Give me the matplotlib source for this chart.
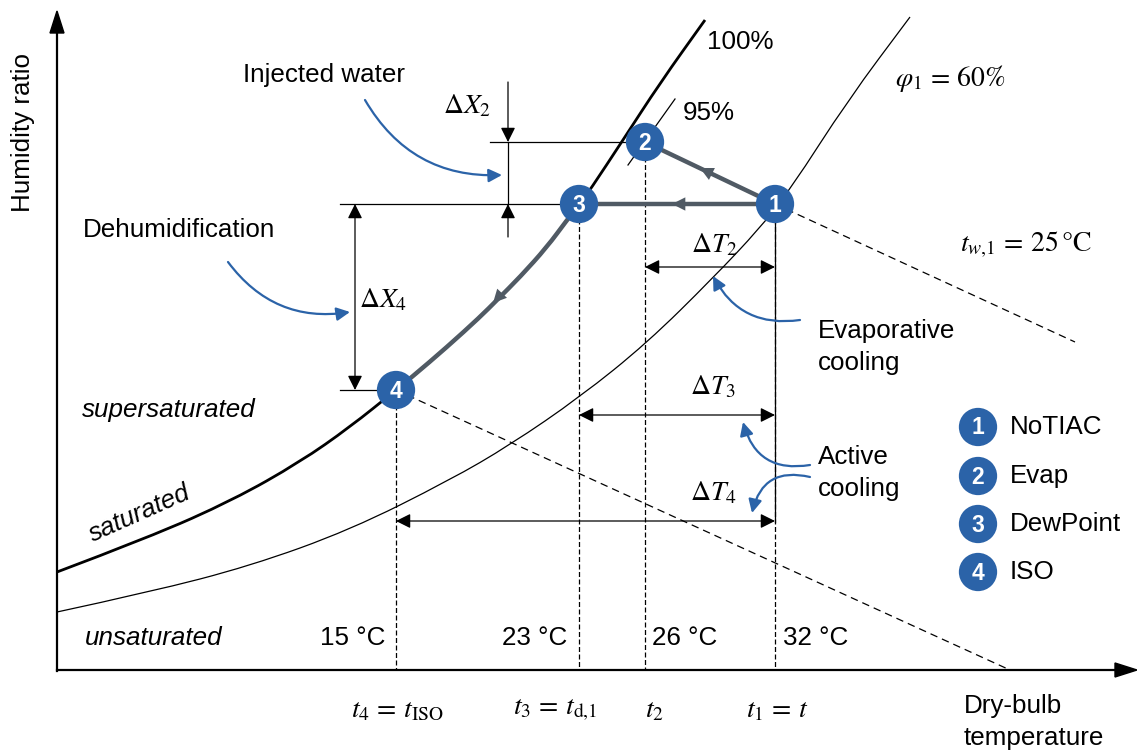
import matplotlib.pyplot as plt
import matplotlib.patches as mpatches
from matplotlib.path import Path

plt.rcParams["font.family"] = ["Liberation Sans", "DejaVu Sans"]
plt.rcParams["mathtext.fontset"] = "stix"

BLUE = "#2B63A8"
GRAY = "#505A64"

# chart coordinates (schematic, 0..1137 wide, 0..754 tall, y down)
sat_x = [57, 150, 233, 300, 350, 396, 412, 447, 480, 497, 520, 547, 567, 579, 590, 623, 660, 705]
sat_y = [572, 537, 500, 462, 427, 390, 377, 347, 317, 300, 277, 247, 220, 205, 190, 140, 83, 20]
rh60_x = [57, 150, 250, 350, 450, 510, 580, 647, 713, 760, 790, 848, 910]
rh60_y = [612, 592, 566, 530, 480, 445, 397, 343, 278, 228, 190, 100, 17]
rh95_x = [628, 675]
rh95_y = [165, 99]

# state points 1..4
pt_x = [775, 645, 579, 396]
pt_y = [204, 142, 204, 390]
pt_temp = ["32 °C", "26 °C", "23 °C", "15 °C"]
legend_names = ["NoTIAC", "Evap", "DewPoint", "ISO"]

x_axis_y = 670
y_axis_x = 57


def smooth_path(xs, ys):
    # quadratic bezier through the midpoints, read points used as control points
    pts = list(zip(xs, ys))
    verts = [pts[0]]
    codes = [Path.MOVETO]
    for i in range(1, len(pts) - 1):
        mid = ((pts[i][0] + pts[i + 1][0]) / 2, (pts[i][1] + pts[i + 1][1]) / 2)
        verts += [pts[i], mid]
        codes += [Path.CURVE3, Path.CURVE3]
    verts.append(pts[-1])
    codes.append(Path.LINETO)
    return Path(verts, codes)


fig = plt.figure(figsize=(11.37, 7.54), dpi=100)
ax = fig.add_axes([0, 0, 1, 1])
ax.set_xlim(0, 1137)
ax.set_ylim(754, 0)
ax.axis("off")

# axes with arrows
ax.plot([y_axis_x, y_axis_x], [x_axis_y + 1, 30], color="black", lw=1.6)
ax.plot([y_axis_x, 1120], [x_axis_y, x_axis_y], color="black", lw=1.6)
ax.add_patch(mpatches.Polygon([[y_axis_x - 7, 33], [y_axis_x + 7, 33], [y_axis_x, 11]], color="black"))
ax.add_patch(mpatches.Polygon([[1115, x_axis_y - 7], [1115, x_axis_y + 7], [1137, x_axis_y]], color="black"))

# humidity curves
ax.add_patch(mpatches.PathPatch(smooth_path(sat_x, sat_y), fill=False, color="black", lw=2.0))
ax.add_patch(mpatches.PathPatch(smooth_path(rh60_x, rh60_y), fill=False, color="black", lw=0.9))
ax.plot(rh95_x, rh95_y, color="black", lw=0.9)

# wet-bulb dashed lines
ax.plot([pt_x[0], 1075], [pt_y[0], 342], color="black", lw=0.9, ls=(0, (6, 4)))
ax.plot([pt_x[3], 1010], [pt_y[3], x_axis_y], color="black", lw=0.9, ls=(0, (6, 4)))

# vertical guide lines
for i in range(4):
    ax.plot([pt_x[i], pt_x[i]], [pt_y[i], x_axis_y], color="black", lw=0.9, ls=(0, (4, 2)))
ax.plot([pt_x[0], pt_x[0]], [pt_y[0], 522], color="black", lw=0.9)

# horizontal guide lines
ax.plot([490, pt_x[1]], [pt_y[1], pt_y[1]], color="black", lw=0.9)
ax.plot([340, pt_x[2]], [pt_y[2], pt_y[2]], color="black", lw=0.9)
ax.plot([340, pt_x[3]], [pt_y[3], pt_y[3]], color="black", lw=0.9)

# process lines
ax.plot([pt_x[0], pt_x[1]], [pt_y[0], pt_y[1]], color=GRAY, lw=3.2, solid_capstyle="butt")
ax.plot([pt_x[0], pt_x[2]], [pt_y[0], pt_y[2]], color=GRAY, lw=3.2, solid_capstyle="butt")
ax.add_patch(mpatches.PathPatch(smooth_path(sat_x[5:14], sat_y[5:14]), fill=False, color=GRAY, lw=3.2))
mid_arrows = [((722, 179), (700, 168)), ((700, 204), (672, 204)), ((507, 288), (493, 303))]
for start, end in mid_arrows:
    ax.annotate("", xy=end, xytext=start,
                arrowprops=dict(arrowstyle="-|>", color=GRAY, lw=0, mutation_scale=24,
                                shrinkA=0, shrinkB=0))

# dimension arrows
dim_kw = dict(arrowstyle="-|>", color="black", lw=0.9, mutation_scale=22, shrinkA=0, shrinkB=0)
ax.annotate("", xy=(508, pt_y[1]), xytext=(508, 82), arrowprops=dim_kw)
ax.annotate("", xy=(508, pt_y[2]), xytext=(508, 237), arrowprops=dim_kw)
ax.plot([508, 508], [pt_y[1], pt_y[2]], color="black", lw=0.9)
dbl_kw = dict(arrowstyle="<|-|>", color="black", lw=0.9, mutation_scale=22, shrinkA=0, shrinkB=0)
ax.annotate("", xy=(355, pt_y[2]), xytext=(355, pt_y[3]), arrowprops=dbl_kw)
ax.annotate("", xy=(pt_x[1], 267), xytext=(pt_x[0], 267), arrowprops=dbl_kw)
ax.annotate("", xy=(pt_x[2], 415), xytext=(pt_x[0], 415), arrowprops=dbl_kw)
ax.annotate("", xy=(pt_x[3], 521), xytext=(pt_x[0], 521), arrowprops=dbl_kw)

# blue callout arrows
blue_kw = dict(arrowstyle="-|>", color=BLUE, lw=1.6, mutation_scale=20, shrinkA=0, shrinkB=0)
callouts = [((365, 100), (502, 175), 0.3), ((228, 262), (350, 312), 0.3),
            ((800, 320), (713, 276), -0.35), ((810, 465), (743, 422), -0.45),
            ((810, 477), (752, 513), 0.5)]
for start, end, rad in callouts:
    ax.annotate("", xy=end, xytext=start,
                arrowprops=dict(connectionstyle=f"arc3,rad={rad}", **blue_kw))

# state points
ax.scatter(pt_x, pt_y, s=760, color=BLUE, zorder=5, edgecolors="none")
for i in range(4):
    ax.text(pt_x[i], pt_y[i] + 1, str(i + 1), color="white", fontsize=16.5, fontweight="bold",
            ha="center", va="center", zorder=6)

fs = 18.7

# legend
leg_y = [427, 476, 524, 572]
ax.scatter([978] * 4, leg_y, s=760, color=BLUE, edgecolors="none", zorder=5)
for i in range(4):
    ax.text(978, leg_y[i] + 1, str(i + 1), color="white", fontsize=16.5, fontweight="bold",
            ha="center", va="center", zorder=6)
    ax.text(1010, leg_y[i], legend_names[i], fontsize=fs, ha="left", va="center")

# text labels
ax.text(23, 132, "Humidity ratio", fontsize=fs, rotation=90, ha="center", va="center")
ax.text(243, 75, "Injected water", fontsize=fs, ha="left", va="center")
ax.text(83, 230, "Dehumidification", fontsize=fs, ha="left", va="center")
ax.text(818, 347, "Evaporative\ncooling", fontsize=fs, ha="left", va="center", linespacing=1.45)
ax.text(818, 473, "Active\ncooling", fontsize=fs, ha="left", va="center", linespacing=1.45)
ax.text(707, 42, "100%", fontsize=fs, ha="left", va="center")
ax.text(683, 113, "95%", fontsize=fs, ha="left", va="center")
ax.text(82, 410, "supersaturated", fontsize=fs, style="italic", ha="left", va="center")
ax.text(140, 514, "saturated", fontsize=fs, style="italic", rotation=24, ha="center", va="center")
ax.text(85, 638, "unsaturated", fontsize=fs, style="italic", ha="left", va="center")
ax.text(964, 722, "Dry-bulb\ntemperature", fontsize=fs, ha="left", va="center", linespacing=1.45)

ax.text(385, 638, pt_temp[3], fontsize=fs, ha="right", va="center")
ax.text(567, 638, pt_temp[2], fontsize=fs, ha="right", va="center")
ax.text(652, 638, pt_temp[1], fontsize=fs, ha="left", va="center")
ax.text(783, 638, pt_temp[0], fontsize=fs, ha="left", va="center")

ms = 20
ax.text(397, 710, r"$t_4 \,=\, t_{\mathrm{ISO}}$", fontsize=ms, ha="center", va="center")
ax.text(555, 710, r"$t_3 \,=\, t_{\mathrm{d{,}1}}$", fontsize=ms, ha="center", va="center")
ax.text(654, 710, r"$t_2$", fontsize=ms, ha="center", va="center")
ax.text(777, 710, r"$t_1 \,=\, t$", fontsize=ms, ha="center", va="center")
ax.text(467, 106, r"$\Delta X_2$", fontsize=ms, ha="center", va="center")
ax.text(383, 300, r"$\Delta X_4$", fontsize=ms, ha="center", va="center")
ax.text(714, 245, r"$\Delta T_2$", fontsize=ms, ha="center", va="center")
ax.text(713, 387, r"$\Delta T_3$", fontsize=ms, ha="center", va="center")
ax.text(713, 493, r"$\Delta T_4$", fontsize=ms, ha="center", va="center")
ax.text(895, 78, r"$\varphi_1 \,=\, 60\%$", fontsize=ms, ha="left", va="center")
ax.text(960, 245, r"$t_{w{,}1} \,=\, 25\,°\mathrm{C}$", fontsize=ms, ha="left", va="center")

fig.savefig("out.png", dpi=100)
